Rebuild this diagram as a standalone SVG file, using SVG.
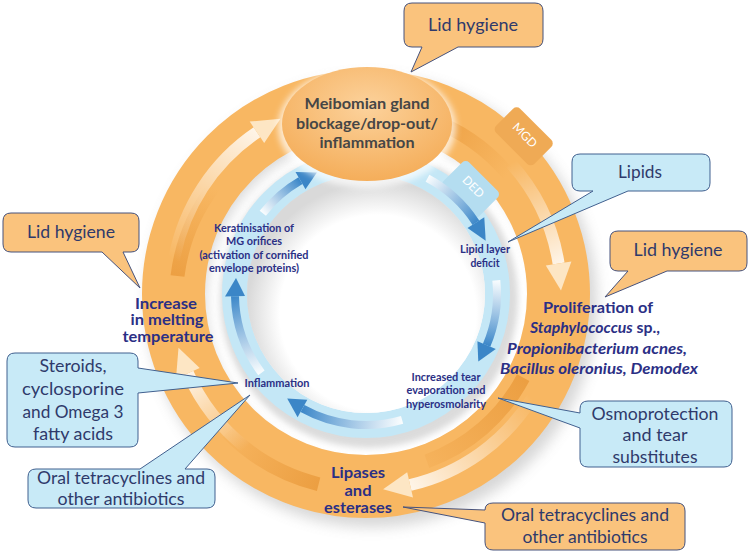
<svg xmlns="http://www.w3.org/2000/svg" width="750" height="554" viewBox="0 0 750 554">
<style>
.lbl{font-family:Lato,"Open Sans",sans-serif;font-weight:bold;fill:#2b2f85;text-anchor:middle}
.sm{font-size:10.5px}
.md{font-size:15.5px}
.mi{font-size:14.5px}
.gr{font-family:Lato,"Open Sans",sans-serif;font-weight:bold;fill:#464646;text-anchor:middle;font-size:15.5px}
.co{font-family:Lato,"Noto Sans",sans-serif;font-size:17px;fill:#2f3a6b;text-anchor:middle}
.cbo{fill:#fac37d;stroke:#46527c;stroke-width:1}
.cbb{fill:#c8eaf7;stroke:#41608f;stroke-width:1}
.tab{font-family:Lato,"Open Sans",sans-serif;font-size:12px;fill:#ffffff;text-anchor:middle}
.ohead{fill:#fde6c4}
.bhead{fill:#3b86c7}
.stripe{fill:none;stroke-width:14;stroke-linecap:butt}
</style>
<defs>
<filter id="blur" x="-30%" y="-30%" width="160%" height="160%"><feGaussianBlur stdDeviation="7"/></filter>
<filter id="blur3" x="-30%" y="-30%" width="160%" height="160%"><feGaussianBlur stdDeviation="3"/></filter>
<radialGradient id="disc" cx="0.55" cy="0.58" r="0.55">
<stop offset="0.75" stop-color="#ffffff"/><stop offset="1" stop-color="#d9d9d9"/>
</radialGradient>
<radialGradient id="ell" cx="0.5" cy="0.35" r="0.7">
<stop offset="0" stop-color="#fcd29c"/><stop offset="1" stop-color="#f4ab55"/>
</radialGradient>
<linearGradient id="gA" gradientUnits="userSpaceOnUse" x1="174" y1="260" x2="257" y2="132"><stop offset="0" stop-color="#fff" stop-opacity="0"/><stop offset="1" stop-color="#fff" stop-opacity="0.85"/></linearGradient>
<linearGradient id="gB" gradientUnits="userSpaceOnUse" x1="511" y1="163" x2="559" y2="264"><stop offset="0" stop-color="#fff" stop-opacity="0"/><stop offset="1" stop-color="#fff" stop-opacity="0.85"/></linearGradient>
<linearGradient id="gC" gradientUnits="userSpaceOnUse" x1="532" y1="398" x2="410" y2="485"><stop offset="0" stop-color="#fff" stop-opacity="0"/><stop offset="1" stop-color="#fff" stop-opacity="0.85"/></linearGradient>
<linearGradient id="gD" gradientUnits="userSpaceOnUse" x1="246" y1="448" x2="188" y2="373"><stop offset="0" stop-color="#fff" stop-opacity="0"/><stop offset="1" stop-color="#fff" stop-opacity="0.85"/></linearGradient>
<linearGradient id="b1" gradientUnits="userSpaceOnUse" x1="263" y1="213" x2="300" y2="181"><stop offset="0" stop-color="#fff" stop-opacity="0.9"/><stop offset="1" stop-color="#3d88c9"/></linearGradient>
<linearGradient id="b2" gradientUnits="userSpaceOnUse" x1="427" y1="178" x2="476" y2="223"><stop offset="0" stop-color="#fff" stop-opacity="0.9"/><stop offset="1" stop-color="#3d88c9"/></linearGradient>
<linearGradient id="b3" gradientUnits="userSpaceOnUse" x1="496" y1="280" x2="487" y2="345"><stop offset="0" stop-color="#fff" stop-opacity="0.9"/><stop offset="1" stop-color="#3d88c9"/></linearGradient>
<linearGradient id="b4" gradientUnits="userSpaceOnUse" x1="402" y1="420" x2="302" y2="409"><stop offset="0" stop-color="#fff" stop-opacity="0.9"/><stop offset="1" stop-color="#3d88c9"/></linearGradient>
<linearGradient id="b5" gradientUnits="userSpaceOnUse" x1="261" y1="373" x2="235" y2="296"><stop offset="0" stop-color="#fff" stop-opacity="0.9"/><stop offset="1" stop-color="#3d88c9"/></linearGradient>
<linearGradient id="s1" gradientUnits="userSpaceOnUse" x1="430" y1="119" x2="508" y2="174"><stop offset="0" stop-color="#ec9f42"/><stop offset="1" stop-color="#ec9f42" stop-opacity="0"/></linearGradient>
<linearGradient id="s2" gradientUnits="userSpaceOnUse" x1="523" y1="378" x2="427" y2="461"><stop offset="0" stop-color="#ec9f42"/><stop offset="1" stop-color="#ec9f42" stop-opacity="0.2"/></linearGradient>
<linearGradient id="s3" gradientUnits="userSpaceOnUse" x1="319" y1="484" x2="227" y2="433"><stop offset="0" stop-color="#ec9f42"/><stop offset="1" stop-color="#ec9f42" stop-opacity="0.1"/></linearGradient>
<linearGradient id="s4" gradientUnits="userSpaceOnUse" x1="178" y1="280" x2="214" y2="188"><stop offset="0" stop-color="#ec9f42"/><stop offset="1" stop-color="#ec9f42" stop-opacity="0"/></linearGradient>
</defs>
<rect width="750" height="554" fill="#ffffff"/>

<g id="rings">
<circle cx="372" cy="302" r="196" fill="none" stroke="#7a7a7a" stroke-width="58" opacity="0.3" filter="url(#blur)"/>
<circle cx="366" cy="294" r="192.5" fill="none" stroke="#f8b762" stroke-width="63"/>
<g transform="translate(366 294) rotate(-45)">
<rect x="206" y="-27" width="34" height="54" rx="5" fill="#efaa55"/>
<text class="tab" transform="translate(225 0) rotate(90)" y="4.5">MGD</text>
</g>
<path class="stripe" stroke="url(#s1)" d="M 429.6 119.2 A 186 186 0 0 1 508.5 174.4"/>
<path class="stripe" stroke="url(#s2)" d="M 523.2 377.6 A 178 178 0 0 1 426.9 461.3"/>
<path class="stripe" stroke="url(#s3)" d="M 318.6 484.2 A 196 196 0 0 1 227.4 432.6"/>
<path class="stripe" stroke="url(#s4)" d="M 177.5 276.0 A 188 188 0 0 1 213.9 186.3"/>
<circle cx="369" cy="299" r="134" fill="none" stroke="#8a8a8a" stroke-width="30" opacity="0.3" filter="url(#blur3)"/>
<circle cx="366" cy="294" r="131.5" fill="none" stroke="#c4e7f6" stroke-width="25"/>
<circle cx="366" cy="294" r="119" fill="url(#disc)"/>
<g transform="translate(366 294) rotate(-45)">
<rect x="130" y="-25" width="36" height="50" rx="5" fill="#b4ddf0"/>
<text class="tab" transform="translate(152 0) rotate(90)" y="4.5">DED</text>
</g>
</g>

<g id="connectors">
<path d="M 174.0 260.1 A 195 195 0 0 1 257.0 132.3" fill="none" stroke="url(#gA)" stroke-width="12"/>
<polygon class="ohead" points="264.2,143.1 249.7,121.6 280.5,118.7"/>
<path d="M 510.9 163.5 A 195 195 0 0 1 558.6 263.5" fill="none" stroke="url(#gB)" stroke-width="12"/>
<polygon class="ohead" points="545.8,265.5 571.4,261.5 561.0,290.6"/>
<path d="M 532.2 397.9 A 196 196 0 0 1 410.1 485.0" fill="none" stroke="url(#gC)" stroke-width="12"/>
<polygon class="ohead" points="407.2,472.3 413.0,497.6 383.1,489.3"/>
<path d="M 245.9 447.7 A 195 195 0 0 1 187.9 373.3" fill="none" stroke="url(#gD)" stroke-width="12"/>
<polygon class="ohead" points="199.7,368.0 176.0,378.6 178.5,347.7"/>
<path d="M 262.8 213.3 A 131 131 0 0 1 300.5 180.6" fill="none" stroke="url(#b1)" stroke-width="8"/>
<polygon class="bhead" points="305.5,189.2 295.5,171.9 316.9,172.5"/>
<path d="M 427.5 178.3 A 131 131 0 0 1 475.9 222.7" fill="none" stroke="url(#b2)" stroke-width="8"/>
<polygon class="bhead" points="467.5,228.1 484.3,217.2 485.7,240.7"/>
<path d="M 496.3 280.3 A 131 131 0 0 1 486.6 345.2" fill="none" stroke="url(#b3)" stroke-width="8"/>
<polygon class="bhead" points="477.4,341.3 495.8,349.1 478.3,361.5"/>
<path d="M 402.1 419.9 A 131 131 0 0 1 302.5 408.6" fill="none" stroke="url(#b4)" stroke-width="8"/>
<polygon class="bhead" points="307.3,399.8 297.6,417.3 287.2,398.6"/>
<path d="M 261.4 372.8 A 131 131 0 0 1 235.0 296.3" fill="none" stroke="url(#b5)" stroke-width="8"/>
<polygon class="bhead" points="245.0,296.1 225.0,296.5 236.0,278.0"/>
</g>

<g id="meibomian">
<ellipse cx="367" cy="127" rx="89" ry="61" fill="#ffffff" opacity="0.7" filter="url(#blur3)"/>
<ellipse cx="367" cy="124" rx="85" ry="57" fill="url(#ell)"/>
<text class="gr" x="367" y="109" textLength="125" lengthAdjust="spacingAndGlyphs">Meibomian gland</text>
<text class="gr" x="367" y="129" textLength="142" lengthAdjust="spacingAndGlyphs">blockage/drop-out/</text>
<text class="gr" x="367" y="148" textLength="95" lengthAdjust="spacingAndGlyphs">inflammation</text>
</g>

<g id="increase">
<text class="lbl mi" x="166" y="309" textLength="62" lengthAdjust="spacingAndGlyphs">Increase</text>
<text class="lbl mi" x="167" y="325" textLength="73" lengthAdjust="spacingAndGlyphs">in melting</text>
<text class="lbl mi" x="168" y="342" textLength="91" lengthAdjust="spacingAndGlyphs">temperature</text>
</g>

<g id="proliferation">
<text class="lbl md" x="598" y="313" textLength="110" lengthAdjust="spacingAndGlyphs">Proliferation of</text>
<text class="lbl md" x="595" y="333" textLength="130" lengthAdjust="spacingAndGlyphs"><tspan font-style="italic">Staphylococcus</tspan> sp.,</text>
<text class="lbl md" x="597" y="354" textLength="180" lengthAdjust="spacingAndGlyphs" font-style="italic">Propionibacterium acnes,</text>
<text class="lbl md" x="599" y="374" textLength="198" lengthAdjust="spacingAndGlyphs" font-style="italic">Bacillus oleronius, Demodex</text>
</g>

<g id="lipases">
<text class="lbl md" x="358" y="478" textLength="54" lengthAdjust="spacingAndGlyphs">Lipases</text>
<text class="lbl md" x="358" y="496" textLength="27" lengthAdjust="spacingAndGlyphs">and</text>
<text class="lbl md" x="358" y="513" textLength="68" lengthAdjust="spacingAndGlyphs">esterases</text>
</g>

<g id="keratinisation">
<text class="lbl sm" x="254" y="232" textLength="80" lengthAdjust="spacingAndGlyphs">Keratinisation of</text>
<text class="lbl sm" x="254" y="245" textLength="56" lengthAdjust="spacingAndGlyphs">MG orifices</text>
<text class="lbl sm" x="254" y="259" textLength="109" lengthAdjust="spacingAndGlyphs">(activation of cornified</text>
<text class="lbl sm" x="254" y="272" textLength="90" lengthAdjust="spacingAndGlyphs">envelope proteins)</text>
</g>

<g id="lipid-layer">
<text class="lbl sm" x="485" y="253" textLength="50" lengthAdjust="spacingAndGlyphs">Lipid layer</text>
<text class="lbl sm" x="485" y="267" textLength="29" lengthAdjust="spacingAndGlyphs">deficit</text>
</g>

<g id="tear">
<text class="lbl sm" x="446" y="381" textLength="69" lengthAdjust="spacingAndGlyphs">Increased tear</text>
<text class="lbl sm" x="446" y="394" textLength="79" lengthAdjust="spacingAndGlyphs">evaporation and</text>
<text class="lbl sm" x="446" y="408" textLength="80" lengthAdjust="spacingAndGlyphs">hyperosmolarity</text>
</g>

<g id="inflammation">
<text class="lbl sm" x="277" y="387" textLength="65" lengthAdjust="spacingAndGlyphs">Inflammation</text>
</g>

<g id="callout-lid-top">
<path class="cbo" d="M 412 3 H 535 Q 543 3 543 11 V 39 Q 543 47 535 47 H 458 L 411 72 L 422 47 H 412 Q 404 47 404 39 V 11 Q 404 3 412 3 Z"/>
<text class="co" x="473" y="31" textLength="90" lengthAdjust="spacingAndGlyphs">Lid hygiene</text>
</g>
<g id="callout-lid-left">
<path class="cbo" d="M 11 213 H 131 Q 139 213 139 221 V 244 Q 139 252 131 252 H 123 L 140 288 L 102 252 H 11 Q 3 252 3 244 V 221 Q 3 213 11 213 Z"/>
<text class="co" x="71" y="238" textLength="88" lengthAdjust="spacingAndGlyphs">Lid hygiene</text>
</g>
<g id="callout-lid-right">
<path class="cbo" d="M 618 231 H 739 Q 747 231 747 239 V 263 Q 747 271 739 271 H 667 L 605 297 L 628 271 H 618 Q 610 271 610 263 V 239 Q 610 231 618 231 Z"/>
<text class="co" x="678" y="256" textLength="89" lengthAdjust="spacingAndGlyphs">Lid hygiene</text>
</g>
<g id="callout-lipids">
<path class="cbb" d="M 580 154 H 702 Q 710 154 710 162 V 183 Q 710 191 702 191 H 628 L 508 242 L 593 191 H 580 Q 572 191 572 183 V 162 Q 572 154 580 154 Z"/>
<text class="co" x="640" y="178" textLength="44" lengthAdjust="spacingAndGlyphs">Lipids</text>
</g>
<g id="callout-osmo">
<path class="cbb" d="M 588 401 H 724 Q 732 401 732 409 V 459 Q 732 467 724 467 H 588 Q 580 467 580 459 V 428 L 498 398 L 580 413 V 409 Q 580 401 588 401 Z"/>
<text class="co" x="655" y="420" textLength="127" lengthAdjust="spacingAndGlyphs">Osmoprotection</text>
<text class="co" x="655" y="441" textLength="65" lengthAdjust="spacingAndGlyphs">and tear</text>
<text class="co" x="655" y="463" textLength="85" lengthAdjust="spacingAndGlyphs">substitutes</text>
</g>
<g id="callout-oral-right">
<path class="cbo" d="M 493 503 H 677 Q 685 503 685 511 V 542 Q 685 550 677 550 H 493 Q 485 550 485 542 V 523 L 403 507 L 485 510 Q 485 503 493 503 Z"/>
<text class="co" x="585" y="521" textLength="168" lengthAdjust="spacingAndGlyphs">Oral tetracyclines and</text>
<text class="co" x="585" y="543" textLength="125" lengthAdjust="spacingAndGlyphs">other antibiotics</text>
</g>
<g id="callout-steroids">
<path class="cbb" d="M 15 353 H 130 Q 138 353 138 361 V 368 L 238 383 L 138 393 V 439 Q 138 447 130 447 H 15 Q 7 447 7 439 V 361 Q 7 353 15 353 Z"/>
<text class="co" x="73" y="372" textLength="67" lengthAdjust="spacingAndGlyphs">Steroids,</text>
<text class="co" x="73" y="395" textLength="102" lengthAdjust="spacingAndGlyphs">cyclosporine</text>
<text class="co" x="73" y="418" textLength="101" lengthAdjust="spacingAndGlyphs">and Omega 3</text>
<text class="co" x="73" y="440" textLength="80" lengthAdjust="spacingAndGlyphs">fatty acids</text>
</g>
<g id="callout-oral-left">
<path class="cbb" d="M 36 469 H 140 L 250 395 L 185 469 H 207 Q 215 469 215 477 V 500 Q 215 508 207 508 H 36 Q 28 508 28 500 V 477 Q 28 469 36 469 Z"/>
<text class="co" x="121" y="484" textLength="168" lengthAdjust="spacingAndGlyphs">Oral tetracyclines and</text>
<text class="co" x="121" y="505" textLength="127" lengthAdjust="spacingAndGlyphs">other antibiotics</text>
</g>
</svg>
